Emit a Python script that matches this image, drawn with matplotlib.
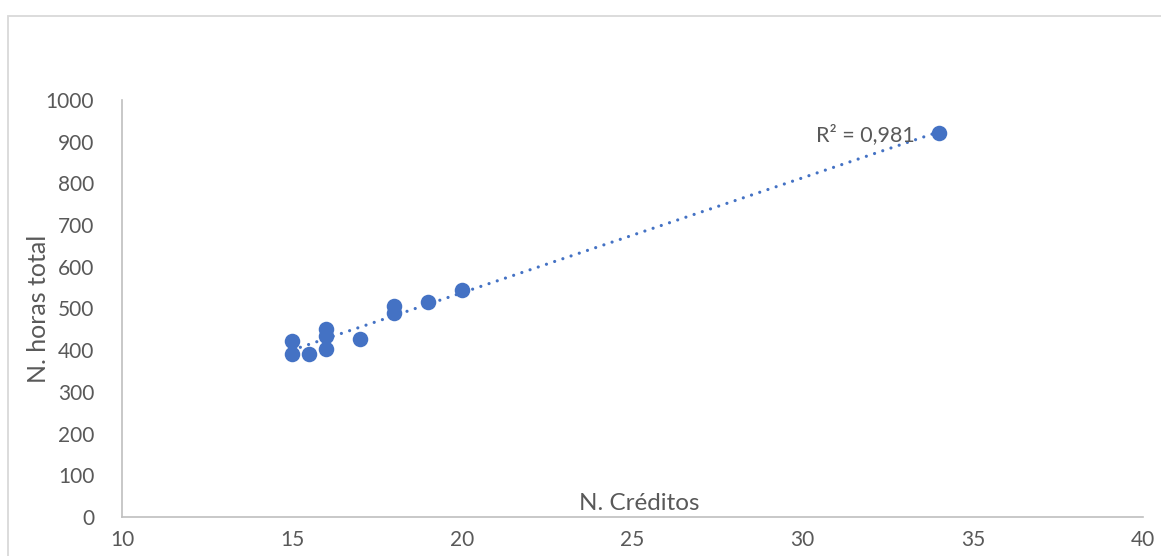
import numpy as np
import matplotlib.pyplot as plt
from matplotlib.patches import Rectangle

# créditos vs. horas totales
creditos = [15, 15, 15.5, 16, 16, 16, 17, 18, 18, 19, 20, 34]
horas = [422, 392, 390, 402, 435, 450, 427, 489, 506, 515, 544, 920]

x_ticks = [10, 15, 20, 25, 30, 35, 40]
y_ticks = list(range(0, 1001, 100))

azul = '#4472C4'
gris = '#595959'

plt.rcParams['font.family'] = ['Lato', 'DejaVu Sans']

fig = plt.figure(figsize=(11.61, 5.56), dpi=100)
ax = fig.add_axes([122 / 1161, 39 / 556, 1021 / 1161, 417 / 556])

# marco del gráfico
fig.patches.append(Rectangle((8 / 1161, -0.1), 1.2, (540 / 556) + 0.1,
                             transform=fig.transFigure, fill=False,
                             edgecolor='#D9D9D9', linewidth=1.3))

ax.scatter(creditos, horas, s=125, color=azul, zorder=3, linewidths=0)

# línea de tendencia lineal (punteada)
m, b = np.polyfit(creditos, horas, 1)
xs = np.array([min(creditos), max(creditos)])
ax.plot(xs, m * xs + b, color=azul, linestyle=(0, (0.01, 2.7)), linewidth=2.3,
        dash_capstyle='round', zorder=2)
ax.text(33.3, 918, 'R² = 0,981', color=gris, fontsize=15.5,
        ha='right', va='center')

ax.set_xlim(10, 40)
ax.set_ylim(0, 1000)
ax.set_xticks(x_ticks)
ax.set_yticks(y_ticks)
ax.tick_params(length=0, labelsize=15, labelcolor=gris, pad=9)
ax.tick_params(axis='y', pad=20)
for side in ['top', 'right']:
    ax.spines[side].set_visible(False)
for side in ['left', 'bottom']:
    ax.spines[side].set_color('#BFBFBF')
    ax.spines[side].set_linewidth(1.2)

ax.text(25.2, 6, 'N. Créditos', color=gris, fontsize=17.5, ha='center', va='bottom')
ax.set_ylabel('N. horas total', color=gris, fontsize=18)
ax.yaxis.set_label_coords(-72 / 1021, 0.5)

fig.savefig('out.png', dpi=100)
